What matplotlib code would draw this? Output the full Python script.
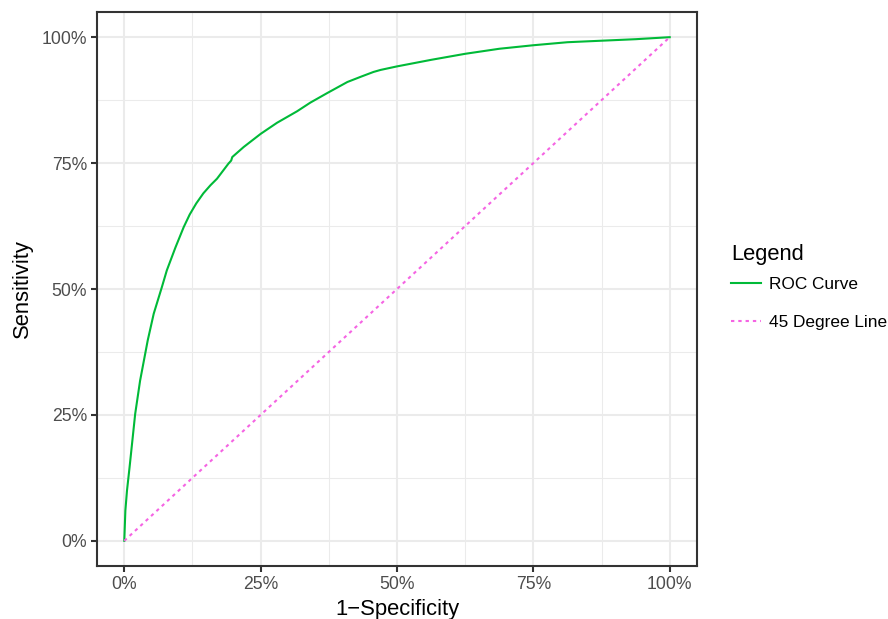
import matplotlib
matplotlib.use("Agg")
import matplotlib.pyplot as plt
from matplotlib.ticker import FixedLocator

plt.rcParams['font.family'] = ['Liberation Sans', 'DejaVu Sans']

# ROC curve (1 - specificity, sensitivity)
fpr = [0.000, 0.002, 0.005, 0.0097, 0.020, 0.029, 0.043, 0.054, 0.069, 0.078,
       0.094, 0.109, 0.120, 0.132, 0.145, 0.158, 0.170, 0.191, 0.196, 0.198,
       0.219, 0.250, 0.280, 0.317, 0.341, 0.372, 0.409, 0.435, 0.457, 0.470,
       0.500, 0.5625, 0.625, 0.6875, 0.750, 0.8125, 0.875, 0.9375, 1.000]
tpr = [0.000, 0.060, 0.100, 0.146, 0.252, 0.318, 0.398, 0.451, 0.504, 0.537,
       0.583, 0.623, 0.648, 0.670, 0.690, 0.706, 0.719, 0.749, 0.755, 0.762,
       0.782, 0.808, 0.830, 0.853, 0.870, 0.889, 0.911, 0.922, 0.931, 0.935,
       0.942, 0.955, 0.967, 0.977, 0.984, 0.990, 0.993, 0.996, 1.000]

diag = [0.0, 1.0]

x_ticks = [0.0, 0.25, 0.5, 0.75, 1.0]
y_ticks = [0.0, 0.25, 0.5, 0.75, 1.0]
minor_ticks = [0.125, 0.375, 0.625, 0.875]
tick_labels = ["0%", "25%", "50%", "75%", "100%"]

series_labels = ["ROC Curve", "45 Degree Line"]
series_colors = ["#00BA38", "#F564E3"]

fig = plt.figure(figsize=(8.88, 6.19), dpi=100)
ax = fig.add_axes([97/888, 1-566/619, 600/888, 554/619])

ax.plot(fpr, tpr, color=series_colors[0], lw=1.5, label=series_labels[0], zorder=3)
ax.plot(diag, diag, color=series_colors[1], lw=1.5, linestyle=(0, (1.6, 1.9)),
        label=series_labels[1], zorder=3)

ax.set_xlim(-0.05, 1.05)
ax.set_ylim(-0.05, 1.05)
ax.xaxis.set_major_locator(FixedLocator(x_ticks))
ax.yaxis.set_major_locator(FixedLocator(y_ticks))
ax.xaxis.set_minor_locator(FixedLocator(minor_ticks))
ax.yaxis.set_minor_locator(FixedLocator(minor_ticks))
ax.set_xticklabels(tick_labels)
ax.set_yticklabels(tick_labels)

ax.grid(which='major', color='#EBEBEB', lw=1.5, zorder=0)
ax.grid(which='minor', color='#EBEBEB', lw=0.77, zorder=0)
ax.set_axisbelow(True)
for s in ax.spines.values():
    s.set_color('#333333')
    s.set_linewidth(1.5)
    s.set_zorder(4)

ax.tick_params(which='major', length=4, width=1.5, color='#333333',
               labelsize=12.7, labelcolor='#4D4D4D', pad=3.2)
ax.tick_params(which='minor', length=0)

ax.set_xlabel("1\u2212Specificity", fontsize=15.8, color='black', labelpad=4)
ax.set_ylabel("Sensitivity", fontsize=15.8, color='black', labelpad=6)

leg = ax.legend(loc='upper left', bbox_to_anchor=(731/888, 1-244/619),
                bbox_transform=fig.transFigure, frameon=False,
                title="Legend", fontsize=12.4, title_fontsize=15.8,
                handlelength=1.72, handletextpad=0.48, labelspacing=1.35,
                borderpad=0, borderaxespad=0, alignment='left')
leg._legend_box.sep = 8.6

fig.savefig("out.png", dpi=100)
